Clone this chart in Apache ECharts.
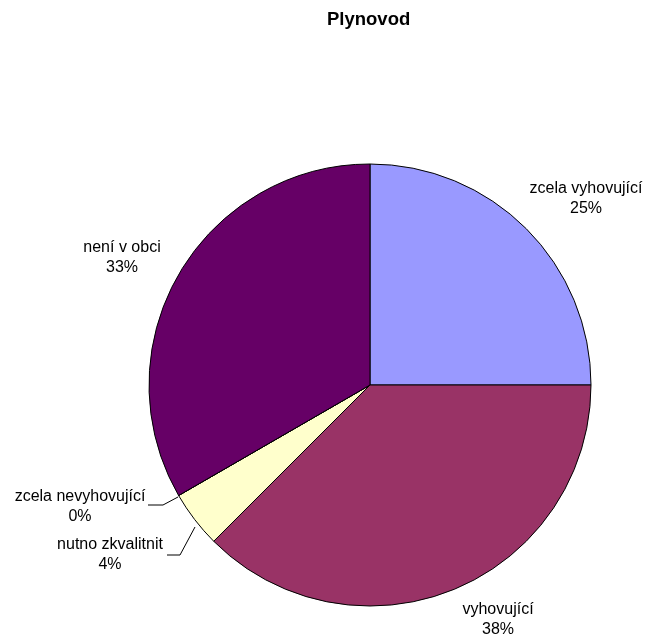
<!DOCTYPE html>
<html>
<head>
<meta charset="utf-8">
<script src="https://cdn.jsdelivr.net/npm/echarts@6/dist/echarts.min.js"></script>
<style>
html,body{margin:0;padding:0;background:#fff;}
#chart{width:653px;height:635px;}
</style>
</head>
<body>
<div id="chart"></div>
<script>
const titleText = 'Plynovod';
const categories = ['zcela vyhovující', 'vyhovující', 'nutno zkvalitnit', 'zcela nevyhovující', 'není v obci'];
const values = [6, 9, 1, 0, 8];
const colors = ['#9999FF', '#993366', '#FFFFCC', '#CCFFFF', '#660066'];
const showLeader = [false, false, true, true, false];

// label anchor positions (layout only)
const labelPos = [
  [586, 199],
  [498, 620],
  [110, 555],
  [80, 507],
  [122, 258]
];
const leaderPts = {
  2: [[195, 527], [180, 555], [167, 555]],
  3: [[178, 497], [163, 505], [148, 505]]
};

const chart = echarts.init(document.getElementById('chart'), null, {renderer: 'canvas'});
const FONT = "'Liberation Sans', Arial, sans-serif";

chart.setOption({
  animation: false,
  backgroundColor: '#ffffff',
  title: {
    text: titleText,
    left: 327,
    top: 10,
    padding: 0,
    textStyle: {fontFamily: FONT, fontSize: 18.5, fontWeight: 'bold', color: '#000'}
  },
  series: [{
    type: 'pie',
    center: [370, 385],
    radius: 221,
    startAngle: 90,
    clockwise: true,
    percentPrecision: 0,
    avoidLabelOverlap: false,
    minShowLabelAngle: 0,
    itemStyle: {borderColor: '#000', borderWidth: 1},
    emphasis: {disabled: true},
    label: {
      show: true,
      position: 'outside',
      formatter: '{b}\n{d}%',
      fontFamily: FONT,
      fontSize: 16,
      lineHeight: 20,
      color: '#000',
      align: 'center'
    },
    labelLine: {show: true, lineStyle: {color: '#000', width: 1}, smooth: false},
    labelLayout: function (p) {
      const i = p.dataIndex;
      const r = {x: labelPos[i][0], y: labelPos[i][1], align: 'center', verticalAlign: 'middle'};
      if (leaderPts[i]) r.labelLinePoints = leaderPts[i];
      return r;
    },
    data: categories.map((c, i) => ({
      name: c,
      value: values[i],
      itemStyle: {color: colors[i]},
      labelLine: {show: showLeader[i]}
    }))
  }]
});
</script>
</body>
</html>
